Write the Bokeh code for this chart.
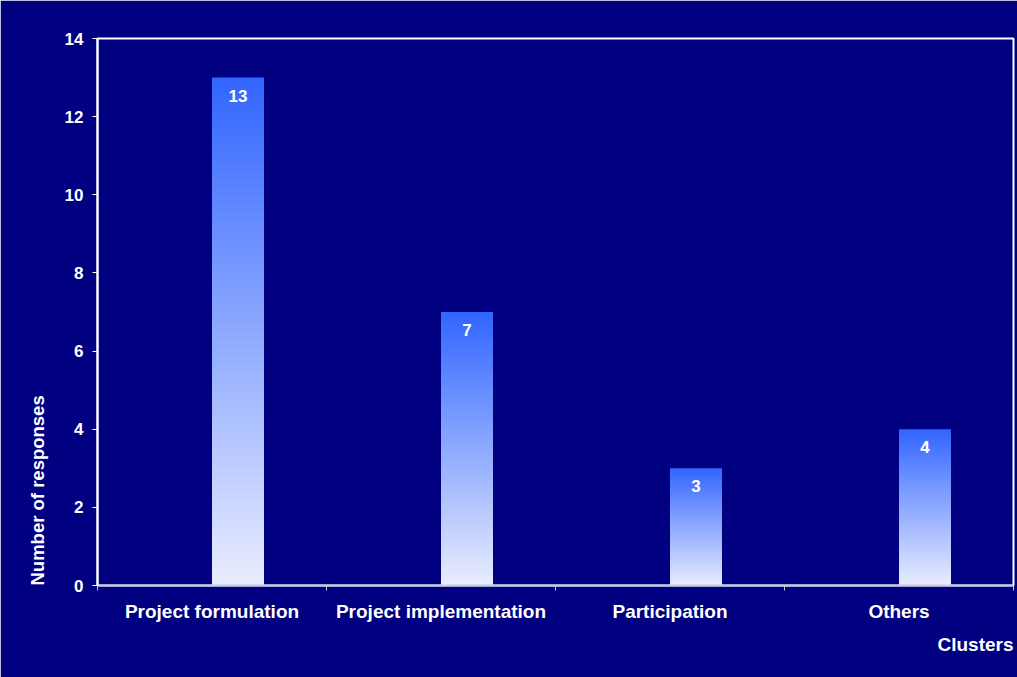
from bokeh.plotting import figure
from bokeh.models import Range1d, FixedTicker, Title, ColumnDataSource
from bokeh.core.properties import value
from bokeh.transform import dodge
from bokeh.embed import file_html
from bokeh.resources import INLINE

categories = ["Project formulation", "Project implementation", "Participation", "Others"]
values = [13, 7, 3, 4]
y_ticks = [0, 2, 4, 6, 8, 10, 12, 14]
x_title = "Clusters"
y_title = "Number of responses"

NAVY = "#000080"
FONT = "Liberation Sans"
TOP_RGB = (51, 102, 255)
BOT_RGB = (232, 236, 255)
N_SLICES = 60

n = len(categories)
centers = [i + 0.5 for i in range(n)]      # category centre on the numeric axis

p = figure(width=1017, height=677,
           x_range=Range1d(0, n), y_range=Range1d(0, 14),
           output_backend="svg", toolbar_location=None,
           min_border_left=97, min_border_right=4,
           min_border_top=38, min_border_bottom=92)

p.background_fill_color = NAVY
p.border_fill_color = NAVY
p.outline_line_color = "white"
p.outline_line_width = 2
p.xgrid.visible = False
p.ygrid.visible = False

# gradient bars: nested bars of each value, tallest (bluest) drawn first
xs, tops, cols = [], [], []
for k in reversed(range(N_SLICES)):
    f = k / (N_SLICES - 1)
    rgb = tuple(int(round(BOT_RGB[j] + (TOP_RGB[j] - BOT_RGB[j]) * f)) for j in range(3))
    for cx, v in zip(centers, values):
        xs.append(cx)
        tops.append(v * (k + 1) / N_SLICES)
        cols.append("#%02x%02x%02x" % rgb)
src = ColumnDataSource(dict(x=xs, top=tops, color=cols))
p.vbar(x=dodge("x", 0.1135), width=0.227, bottom=0, top="top", source=src,
       fill_color="color", line_color=None)

lab = ColumnDataSource(dict(x=centers, v=values, t=[str(v) for v in values]))
p.text(x=dodge("x", 0.1135), y="v", text="t", source=lab,
       text_color="white", text_font=value(FONT), text_font_style="bold",
       text_font_size="17px", text_align="center", text_baseline="top", y_offset=12)

# y axis
ya = p.yaxis[0]
ya.ticker = FixedTicker(ticks=y_ticks)
ya.axis_line_color = "white"
ya.axis_line_width = 2
ya.major_tick_line_color = "white"
ya.major_tick_out = 5
ya.major_tick_in = 0
ya.minor_tick_line_color = None
ya.major_label_text_color = "white"
ya.major_label_text_font = FONT
ya.major_label_text_font_style = "bold"
ya.major_label_text_font_size = "17px"
ya.major_label_standoff = 9

# x axis: labels at category centres, ticks at category edges
xa = p.xaxis[0]
xa.ticker = FixedTicker(ticks=centers, minor_ticks=list(range(n + 1)))
xa.major_label_overrides = {cx: c for cx, c in zip(centers, categories)}
xa.axis_line_color = "#c8c8e8"
xa.axis_line_width = 2
xa.major_tick_line_color = None
xa.major_tick_out = 0
xa.major_tick_in = 0
xa.minor_tick_line_color = "#c8c8e8"
xa.minor_tick_out = 5
xa.minor_tick_in = 0
xa.major_label_text_color = "white"
xa.major_label_text_font = FONT
xa.major_label_text_font_style = "bold"
xa.major_label_text_font_size = "19px"
xa.major_label_standoff = 10

p.add_layout(Title(text=x_title, align="right", text_color="white", text_font=FONT,
                   text_font_style="bold", text_font_size="19px", standoff=14), "below")
p.add_layout(Title(text=y_title, align="left", text_color="white", text_font=FONT,
                   text_font_style="bold", text_font_size="18.5px", standoff=27), "left")

open("out.html", "w").write(file_html(p, INLINE))
